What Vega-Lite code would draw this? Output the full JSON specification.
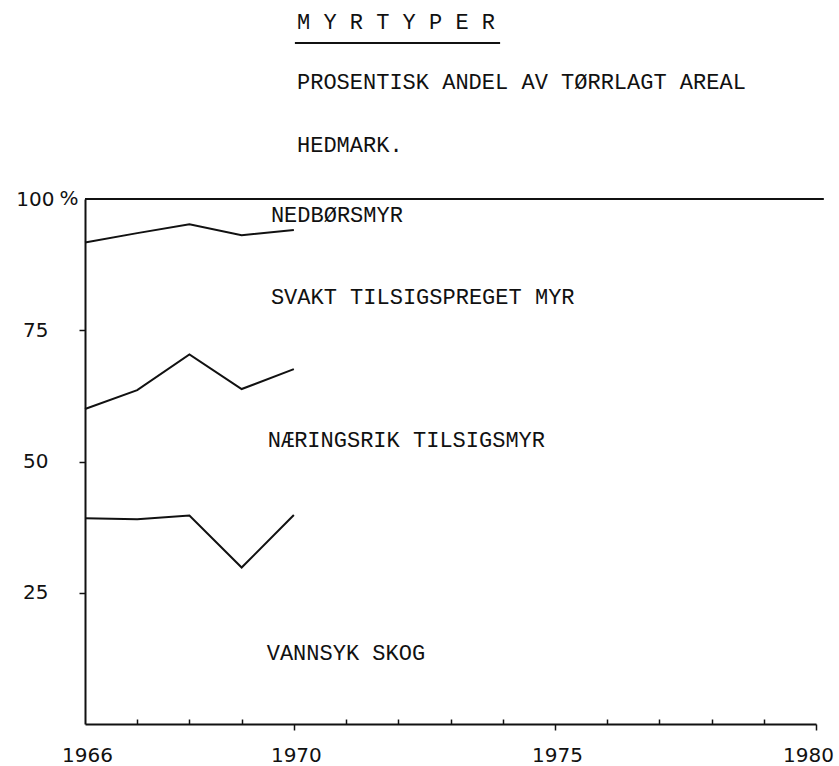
{
  "$schema": "https://vega.github.io/schema/vega-lite/v6.json",
  "autosize": "none",
  "width": 731,
  "height": 525,
  "padding": {"left": 85, "top": 199, "right": 23, "bottom": 42},
  "background": "white",
  "config": {
    "view": {"stroke": null},
    "axis": {
      "domainColor": "#111",
      "domainWidth": 2,
      "tickColor": "#111",
      "tickWidth": 1.5,
      "grid": false,
      "title": null,
      "labelFont": "DejaVu Sans",
      "labelFontSize": 20,
      "labelColor": "#111"
    }
  },
  "datasets": {
    "series": [
      {"type": "NEDBØRSMYR", "year": 1966, "pct": 91.7},
      {"type": "NEDBØRSMYR", "year": 1967, "pct": 93.5},
      {"type": "NEDBØRSMYR", "year": 1968, "pct": 95.2},
      {"type": "NEDBØRSMYR", "year": 1969, "pct": 93.1},
      {"type": "NEDBØRSMYR", "year": 1970, "pct": 94.1},
      {"type": "SVAKT TILSIGSPREGET MYR", "year": 1966, "pct": 60.0},
      {"type": "SVAKT TILSIGSPREGET MYR", "year": 1967, "pct": 63.6},
      {"type": "SVAKT TILSIGSPREGET MYR", "year": 1968, "pct": 70.4},
      {"type": "SVAKT TILSIGSPREGET MYR", "year": 1969, "pct": 63.8},
      {"type": "SVAKT TILSIGSPREGET MYR", "year": 1970, "pct": 67.6},
      {"type": "NÆRINGSRIK TILSIGSMYR", "year": 1966, "pct": 39.2},
      {"type": "NÆRINGSRIK TILSIGSMYR", "year": 1967, "pct": 39.0},
      {"type": "NÆRINGSRIK TILSIGSMYR", "year": 1968, "pct": 39.7},
      {"type": "NÆRINGSRIK TILSIGSMYR", "year": 1969, "pct": 29.8},
      {"type": "NÆRINGSRIK TILSIGSMYR", "year": 1970, "pct": 39.8}
    ],
    "labels": [
      {"label": "NEDBØRSMYR", "year": 1969.56, "pct": 97.0},
      {"label": "SVAKT TILSIGSPREGET MYR", "year": 1969.56, "pct": 81.3},
      {"label": "NÆRINGSRIK TILSIGSMYR", "year": 1969.50, "pct": 54.1},
      {"label": "VANNSYK SKOG", "year": 1969.48, "pct": 13.5},
      {"label": "M Y R T Y P E R", "year": 1970.06, "pct": 133.7},
      {"label": "PROSENTISK ANDEL AV TØRRLAGT AREAL", "year": 1970.06, "pct": 122.3},
      {"label": "HEDMARK.", "year": 1970.06, "pct": 110.3}
    ],
    "one": [{"n": 1}]
  },
  "layer": [
    {
      "data": {"name": "series"},
      "mark": {"type": "line", "color": "#111", "strokeWidth": 2},
      "encoding": {
        "x": {
          "field": "year",
          "type": "quantitative",
          "scale": {"domain": [1966, 1980], "nice": false, "zero": false},
          "axis": {
            "values": [1966, 1967, 1968, 1969, 1970, 1971, 1972, 1973, 1974, 1975, 1976, 1977, 1978, 1979, 1980],
            "labelExpr": "indexof([1966,1970,1975,1980], datum.value) >= 0 ? datum.label : ''",
            "format": "d",
            "tickSize": {"condition": {"test": "indexof([1966,1970,1975,1980], datum.value) >= 0", "value": 6}, "value": -5},
            "tickOpacity": {"condition": {"test": "datum.value == 1966", "value": 0}, "value": 1},
            "labelOffset": {"condition": {"test": "datum.value == 1980", "value": -8}, "value": 2},
            "labelPadding": 15,
            "labelFlush": false
          }
        },
        "y": {
          "field": "pct",
          "type": "quantitative",
          "scale": {"domain": [0, 100], "nice": false},
          "axis": {
            "values": [25, 50, 75, 100],
            "tickSize": {"condition": {"test": "datum.value == 100", "value": 0}, "value": 6},
            "labelPadding": 31,
            "labelFlush": false
          }
        },
        "detail": {"field": "type", "type": "nominal"}
      }
    },
    {
      "data": {"name": "one"},
      "mark": {"type": "rule", "color": "#111", "strokeWidth": 2, "clip": false},
      "encoding": {
        "x": {"datum": 1966, "type": "quantitative"},
        "x2": {"datum": 1980.15},
        "y": {"datum": 100, "type": "quantitative"}
      }
    },
    {
      "data": {"name": "one"},
      "mark": {"type": "rule", "color": "#111", "strokeWidth": 2, "clip": false},
      "encoding": {
        "x": {"datum": 1970.02, "type": "quantitative"},
        "x2": {"datum": 1973.95},
        "y": {"datum": 129.7, "type": "quantitative"}
      }
    },
    {
      "data": {"name": "one"},
      "mark": {"type": "text", "text": "%", "font": "DejaVu Sans", "fontSize": 20, "color": "#111", "dx": -16, "align": "center", "baseline": "middle"},
      "encoding": {
        "x": {"datum": 1966, "type": "quantitative"},
        "y": {"datum": 100, "type": "quantitative"}
      }
    },
    {
      "data": {"name": "labels"},
      "mark": {"type": "text", "font": "Liberation Mono", "fontSize": 22, "color": "#111", "align": "left", "baseline": "middle", "clip": false},
      "encoding": {
        "x": {"field": "year", "type": "quantitative"},
        "y": {"field": "pct", "type": "quantitative"},
        "text": {"field": "label", "type": "nominal"}
      }
    }
  ]
}
